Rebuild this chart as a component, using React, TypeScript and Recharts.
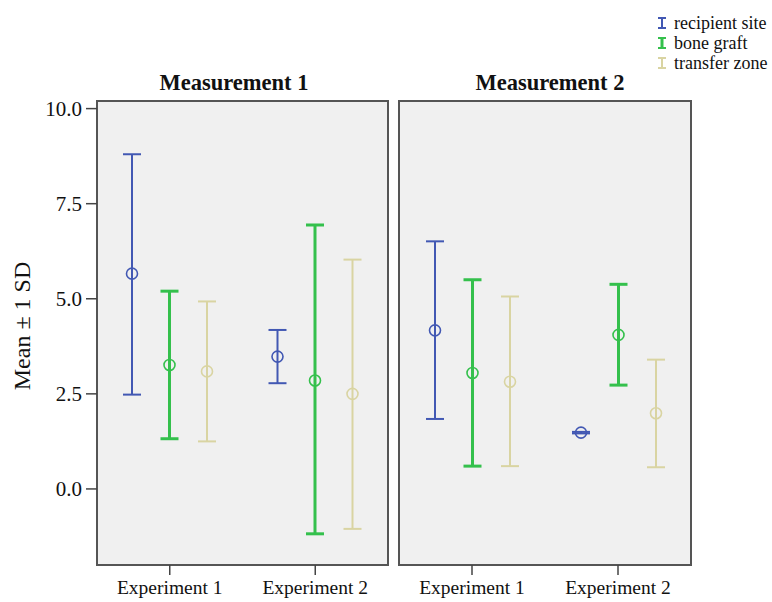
import React from 'react'
import {
  ComposedChart,
  Bar,
  ErrorBar,
  XAxis,
  YAxis,
  CartesianGrid,
  ReferenceArea,
} from 'recharts'

const categories = ['Experiment 1', 'Experiment 2']
const panelTitles = ['Measurement 1', 'Measurement 2']
const seriesNames = ['recipient site', 'bone graft', 'transfer zone']
const yTicks = [0, 2.5, 5, 7.5, 10]

// Measurement 1
const m1RecipientMean = [5.66, 3.48]
const m1RecipientLow = [2.48, 2.78]
const m1RecipientHigh = [8.8, 4.18]
const m1GraftMean = [3.26, 2.85]
const m1GraftLow = [1.32, -1.18]
const m1GraftHigh = [5.2, 6.94]
const m1TransferMean = [3.09, 2.5]
const m1TransferLow = [1.25, -1.05]
const m1TransferHigh = [4.93, 6.03]

// Measurement 2
const m2RecipientMean = [4.17, 1.48]
const m2RecipientLow = [1.84, 1.46]
const m2RecipientHigh = [6.51, 1.5]
const m2GraftMean = [3.05, 4.05]
const m2GraftLow = [0.6, 2.73]
const m2GraftHigh = [5.5, 5.38]
const m2TransferMean = [2.82, 1.99]
const m2TransferLow = [0.6, 0.57]
const m2TransferHigh = [5.06, 3.4]

const COLORS = ['#4258b3', '#34c04c', '#d9d4a2']
const LINE_W = [2, 3, 2]
const FONT = '"Liberation Serif", "Times New Roman", serif'

const buildRows = (
  means: number[][],
  lows: number[][],
  highs: number[][],
) =>
  categories.map((cat, i) => {
    const row: Record<string, any> = { cat }
    means.forEach((m, s) => {
      row[`m${s}`] = m[i]
      row[`e${s}`] = [m[i] - lows[s][i], highs[s][i] - m[i]]
    })
    return row
  })

const panel1 = buildRows(
  [m1RecipientMean, m1GraftMean, m1TransferMean],
  [m1RecipientLow, m1GraftLow, m1TransferLow],
  [m1RecipientHigh, m1GraftHigh, m1TransferHigh],
)
const panel2 = buildRows(
  [m2RecipientMean, m2GraftMean, m2TransferMean],
  [m2RecipientLow, m2GraftLow, m2TransferLow],
  [m2RecipientHigh, m2GraftHigh, m2TransferHigh],
)

const meanDot = (color: string) => (props: any) => {
  const { x, y, width } = props
  return (
    <circle cx={x + width / 2} cy={y} r={5.5} fill="none" stroke={color} strokeWidth={1.6} />
  )
}

function Panel({ data, showY, left, width, mLeft, mRight }: any) {
  return (
    <div style={{ position: 'absolute', left, top: 0 }}>
      <ComposedChart
        width={width}
        height={602}
        data={data}
        barSize={10}
        barGap={27.5}
        margin={{ top: 101, right: mRight, bottom: 0, left: mLeft }}
      >
        <CartesianGrid fill="#f0f0f0" horizontal={false} vertical={false} />
        <XAxis
          dataKey="cat"
          type="category"
          height={37}
          tickSize={10}
          tickMargin={5}
          axisLine={false}
          tickLine={{ stroke: '#444', strokeWidth: 1.5 }}
          tick={{ fontSize: 19.5, fill: '#111', fontFamily: FONT }}
        />
        <YAxis
          hide={!showY}
          type="number"
          domain={[-2, 10.2]}
          ticks={yTicks}
          allowDataOverflow
          width={97}
          tickSize={11}
          tickMargin={4}
          axisLine={false}
          tickLine={{ stroke: '#444', strokeWidth: 1.5 }}
          tickFormatter={(v) => v.toFixed(1)}
          tick={{ fontSize: 21, fill: '#111', fontFamily: FONT }}
        />
        {seriesNames.map((name, s) => (
          <Bar
            key={name}
            dataKey={`m${s}`}
            name={name}
            fill="none"
            shape={meanDot(COLORS[s])}
            isAnimationActive={false}
          >
            <ErrorBar
              dataKey={`e${s}`}
              direction="y"
              width={9}
              stroke={COLORS[s]}
              strokeWidth={LINE_W[s]}
              isAnimationActive={false}
            />
          </Bar>
        ))}
        <ReferenceArea y1={-2} y2={10.2} fill="none" stroke="#555" strokeWidth={2} />
      </ComposedChart>
    </div>
  )
}

export default function App() {
  return (
    <div
      style={{
        position: 'absolute',
        left: 0,
        top: 0,
        width: 772,
        height: 602,
        background: '#fff',
        fontFamily: FONT,
        color: '#111',
      }}
    >
      <Panel data={panel1} showY left={0} width={400} mLeft={0} mRight={12} />
      <Panel data={panel2} showY={false} left={380} width={320} mLeft={19} mRight={9} />

      {panelTitles.map((t, i) => (
        <div
          key={t}
          style={{
            position: 'absolute',
            top: 69,
            left: i === 0 ? 134 : 450,
            width: 200,
            textAlign: 'center',
            fontSize: 22.5,
            lineHeight: '28px',
            fontWeight: 'bold',
          }}
        >
          {t}
        </div>
      ))}

      <div
        style={{
          position: 'absolute',
          left: 22 - 100,
          top: 326 - 14,
          width: 200,
          height: 28,
          lineHeight: '28px',
          textAlign: 'center',
          fontSize: 24,
          transform: 'rotate(-90deg)',
        }}
      >
        Mean ± 1 SD
      </div>

      <div style={{ position: 'absolute', left: 656, top: 13 }}>
        {seriesNames.map((name, s) => (
          <div key={name} style={{ display: 'flex', alignItems: 'center', height: 20, fontSize: 18 }}>
            <svg width={12} height={12} style={{ marginRight: 6 }}>
              <line x1={2} y1={1} x2={10} y2={1} stroke={COLORS[s]} strokeWidth={2} />
              <line x1={6} y1={1} x2={6} y2={11} stroke={COLORS[s]} strokeWidth={LINE_W[s]} />
              <line x1={2} y1={11} x2={10} y2={11} stroke={COLORS[s]} strokeWidth={2} />
            </svg>
            {name}
          </div>
        ))}
      </div>
    </div>
  )
}
